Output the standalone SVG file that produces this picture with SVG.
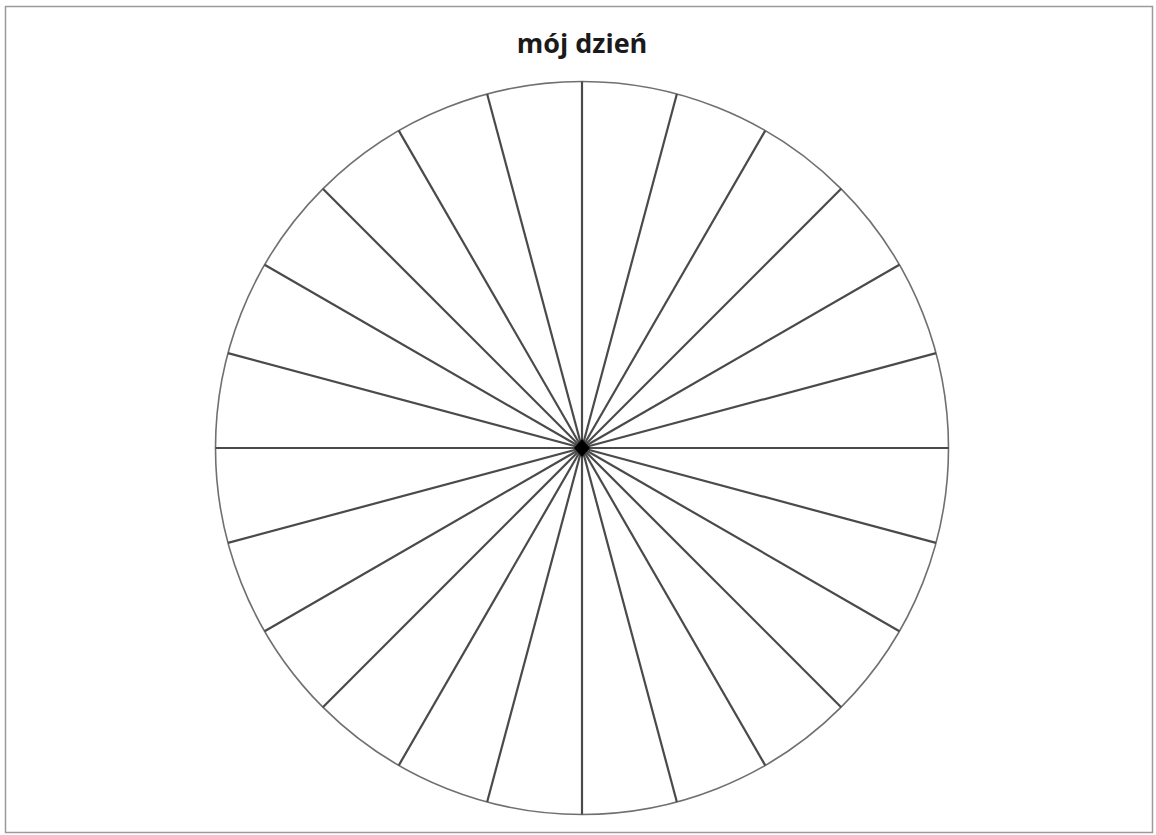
<svg xmlns="http://www.w3.org/2000/svg" width="1156" height="835" viewBox="0 0 1156 835">
<style>
.frame{fill:#fff;stroke:#9a9a9a;stroke-width:1.5}
.rim{fill:#fff;stroke:#707070;stroke-width:1.6}
.spoke{stroke:#4a4a4a;stroke-width:2.2}
.title{font-family:"Open Sans","Noto Sans",sans-serif;font-weight:700;font-size:27px;fill:#1a1a1a}
</style>
<rect class="frame" x="5.5" y="6.5" width="1147" height="826"/>
<g id="title"><text class="title" x="582" y="53" text-anchor="middle">mój dzień</text></g>
<g id="wheel">
<circle class="rim" cx="582" cy="448" r="366.5"/>
</g>
<g id="connectors">
<line class="spoke" x1="582" y1="448" x2="582" y2="81.5"/>
<line class="spoke" x1="582" y1="448" x2="676.86" y2="93.99"/>
<line class="spoke" x1="582" y1="448" x2="765.25" y2="130.60"/>
<line class="spoke" x1="582" y1="448" x2="841.16" y2="188.84"/>
<line class="spoke" x1="582" y1="448" x2="899.40" y2="264.75"/>
<line class="spoke" x1="582" y1="448" x2="936.01" y2="353.14"/>
<line class="spoke" x1="582" y1="448" x2="948.5" y2="448"/>
<line class="spoke" x1="582" y1="448" x2="936.01" y2="542.86"/>
<line class="spoke" x1="582" y1="448" x2="899.40" y2="631.25"/>
<line class="spoke" x1="582" y1="448" x2="841.16" y2="707.16"/>
<line class="spoke" x1="582" y1="448" x2="765.25" y2="765.40"/>
<line class="spoke" x1="582" y1="448" x2="676.86" y2="802.01"/>
<line class="spoke" x1="582" y1="448" x2="582" y2="814.5"/>
<line class="spoke" x1="582" y1="448" x2="487.14" y2="802.01"/>
<line class="spoke" x1="582" y1="448" x2="398.75" y2="765.40"/>
<line class="spoke" x1="582" y1="448" x2="322.84" y2="707.16"/>
<line class="spoke" x1="582" y1="448" x2="264.60" y2="631.25"/>
<line class="spoke" x1="582" y1="448" x2="227.99" y2="542.86"/>
<line class="spoke" x1="582" y1="448" x2="215.5" y2="448"/>
<line class="spoke" x1="582" y1="448" x2="227.99" y2="353.14"/>
<line class="spoke" x1="582" y1="448" x2="264.60" y2="264.75"/>
<line class="spoke" x1="582" y1="448" x2="322.84" y2="188.84"/>
<line class="spoke" x1="582" y1="448" x2="398.75" y2="130.60"/>
<line class="spoke" x1="582" y1="448" x2="487.14" y2="93.99"/>
</g>
<g id="hub"><polygon points="582,439 590,448 582,457 574,448" fill="#000"/></g>
</svg>
